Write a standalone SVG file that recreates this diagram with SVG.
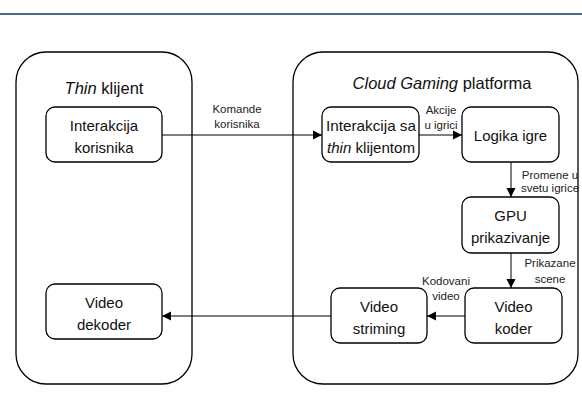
<svg xmlns="http://www.w3.org/2000/svg" width="582" height="412" viewBox="0 0 582 412">
<defs>
<marker id="ah" markerWidth="10" markerHeight="10" refX="9" refY="5" orient="auto" markerUnits="userSpaceOnUse">
<path d="M0,0.5 L9,5 L0,9.5 z" fill="#000"/>
</marker>
<style>
.cont{fill:#fff;stroke:#000;stroke-width:1.3}
.box{fill:#fff;stroke:#000;stroke-width:1.3}
.t{font-family:"Liberation Sans",Arial,sans-serif;font-size:15px;fill:#111;text-anchor:middle}
.h{font-family:"Liberation Sans",Arial,sans-serif;font-size:16.5px;fill:#111;text-anchor:middle}
.l{font-family:"Liberation Sans",Arial,sans-serif;font-size:11.5px;fill:#222;text-anchor:middle}
.c{stroke:#000;stroke-width:1;fill:none;marker-end:url(#ah)}
</style>
</defs>
<rect x="0" y="0" width="582" height="412" fill="#fff"/>
<line x1="0" y1="14" x2="582" y2="14" stroke="#0d3a66" stroke-width="1.5"/>
<g id="thin-klijent">
<rect class="cont" x="16" y="52" width="176" height="332" rx="30"/>
<text class="h" x="104" y="94"><tspan font-style="italic">Thin</tspan> klijent</text>
</g>
<g id="cloud-gaming">
<rect class="cont" x="293" y="52" width="285" height="332" rx="30"/>
<text class="h" x="442" y="89"><tspan font-style="italic">Cloud Gaming</tspan> platforma</text>
</g>
<g id="interakcija-korisnika">
<rect class="box" x="46" y="107" width="116" height="55" rx="9"/>
<text class="t" x="104" y="130.5">Interakcija</text>
<text class="t" x="104" y="152.5">korisnika</text>
</g>
<g id="video-dekoder">
<rect class="box" x="46" y="284" width="116" height="55" rx="9"/>
<text class="t" x="104" y="307.5">Video</text>
<text class="t" x="104" y="329.5">dekoder</text>
</g>
<g id="interakcija-thin">
<rect class="box" x="322" y="107" width="97" height="55" rx="9"/>
<text class="t" x="371" y="130.5" textLength="90" lengthAdjust="spacingAndGlyphs">Interakcija sa</text>
<text class="t" x="371" y="152.5" textLength="88" lengthAdjust="spacingAndGlyphs"><tspan font-style="italic">thin</tspan> klijentom</text>
</g>
<g id="logika-igre">
<rect class="box" x="462" y="107" width="97" height="55" rx="9"/>
<text class="t" x="510.5" y="141">Logika igre</text>
</g>
<g id="gpu-prikazivanje">
<rect class="box" x="462" y="197" width="97" height="56" rx="9"/>
<text class="t" x="510.5" y="220.5">GPU</text>
<text class="t" x="510.5" y="242.5">prikazivanje</text>
</g>
<g id="video-koder">
<rect class="box" x="465" y="288" width="97" height="55" rx="9"/>
<text class="t" x="513.5" y="311.5">Video</text>
<text class="t" x="513.5" y="333.5">koder</text>
</g>
<g id="video-striming">
<rect class="box" x="331" y="288" width="96" height="55" rx="9"/>
<text class="t" x="379" y="311.5">Video</text>
<text class="t" x="379" y="333.5">striming</text>
</g>
<g id="connectors">
<line class="c" x1="162" y1="135" x2="322" y2="135"/>
<line class="c" x1="419" y1="135" x2="462" y2="135"/>
<line class="c" x1="511" y1="162" x2="511" y2="197"/>
<line class="c" x1="511" y1="253" x2="511" y2="288"/>
<line class="c" x1="465" y1="316" x2="427" y2="316"/>
<line class="c" x1="331" y1="316" x2="162" y2="316"/>
<text class="l" x="237" y="113">Komande</text>
<text class="l" x="237" y="128">korisnika</text>
<text class="l" x="441" y="114">Akcije</text>
<text class="l" x="441" y="129">u igrici</text>
<text class="l" x="550" y="179">Promene u</text>
<text class="l" x="550" y="192">svetu igrice</text>
<text class="l" x="550" y="267">Prikazane</text>
<text class="l" x="550" y="283">scene</text>
<text class="l" x="446" y="285">Kodovani</text>
<text class="l" x="446" y="300">video</text>
</g>
</svg>
